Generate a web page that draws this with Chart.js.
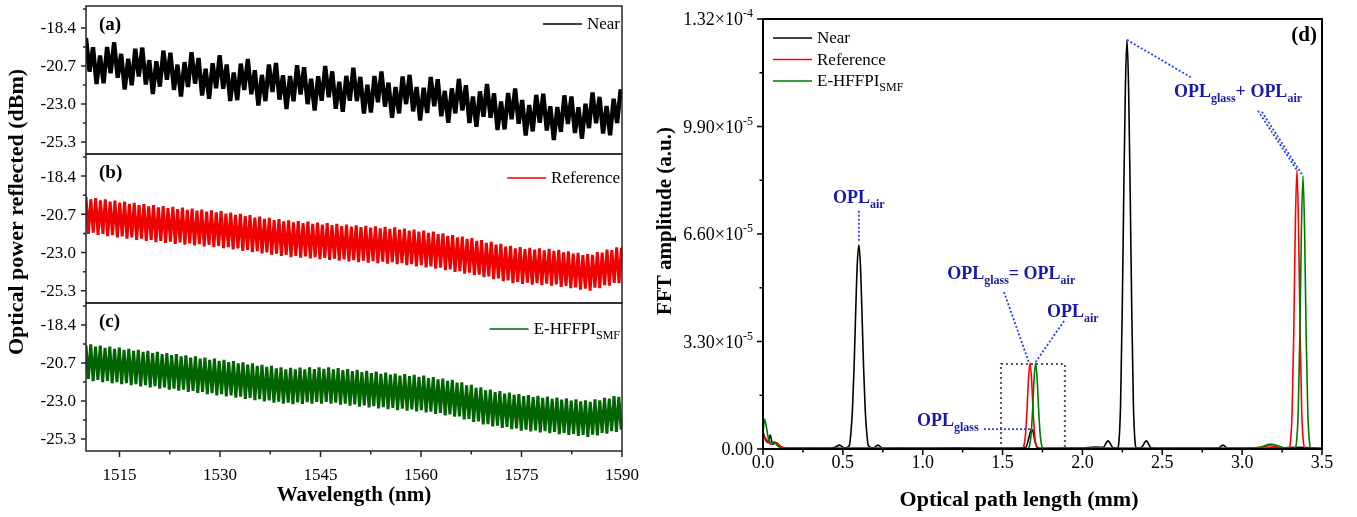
<!DOCTYPE html>
<html>
<head>
<meta charset="utf-8">
<script src="https://cdn.jsdelivr.net/npm/chart.js@4.4.1/dist/chart.umd.min.js"></script>
<style>
  html, body { margin: 0; padding: 0; background: #fff; }
  #wrap { position: relative; width: 1357px; height: 517px; overflow: hidden; }
  #wrap canvas { position: absolute; left: 0; top: 0; }
</style>
</head>
<body>
<div id="wrap">
  <canvas id="panelA" width="1357" height="517"></canvas>
  <canvas id="panelB" width="1357" height="517"></canvas>
  <canvas id="panelC" width="1357" height="517"></canvas>
  <canvas id="panelD" width="1357" height="517"></canvas>
</div>
<script>
// ---- spectra (a)-(c): reflected power in dBm, sampled at half fringe spacing from 1510 nm
const wlStart = 1510;
const nearStep = 0.525;
const nearPower = [
  -19.00, -21.04, -19.57, -21.79, -20.07, -21.75, -19.55, -21.14, -19.27, -21.41,
  -19.97, -22.12, -20.27, -21.87, -19.66, -21.34, -19.59, -21.82, -20.35, -22.40,
  -20.42, -21.95, -19.77, -21.54, -19.90, -22.15, -20.62, -22.55, -20.47, -21.97,
  -19.87, -21.77, -20.22, -22.49, -20.87, -22.69, -20.54, -22.05, -20.05, -22.08,
  -20.61, -22.82, -21.09, -22.77, -20.56, -22.15, -20.28, -22.41, -20.96, -23.10,
  -21.24, -22.83, -20.61, -22.28, -20.52, -22.74, -21.26, -23.30, -21.31, -22.84,
  -20.66, -22.42, -20.78, -23.01, -21.48, -23.40, -21.32, -22.81, -20.70, -22.59,
  -21.03, -23.29, -21.66, -23.47, -21.30, -22.81, -20.80, -22.83, -21.36, -23.58,
  -21.84, -23.52, -21.31, -22.90, -21.03, -23.16, -21.71, -23.84, -21.98, -23.57,
  -21.34, -23.01, -21.24, -23.45, -21.97, -24.00, -22.02, -23.55, -21.37, -23.14,
  -21.50, -23.74, -22.21, -24.14, -22.06, -23.57, -21.48, -23.40, -21.87, -24.15,
  -22.55, -24.38, -22.24, -23.77, -21.79, -23.83, -22.36, -24.58, -22.85, -24.54,
  -22.34, -23.93, -22.06, -24.20, -22.76, -24.91, -23.06, -24.66, -22.45, -24.13,
  -22.38, -24.61, -23.14, -25.19, -23.19, -24.69, -22.48, -24.22, -22.55, -24.76,
  -23.20, -25.10, -22.99, -24.46, -22.31, -24.17, -22.57, -24.79, -23.13, -24.90,
  -22.69, -24.16, -22.11
];

const refStep = 0.36;
const refPower = [
  -19.65, -21.87, -19.79, -21.80, -19.72, -21.94, -19.86, -21.88, -19.79, -22.01,
  -19.93, -21.95, -19.87, -22.08, -20.00, -22.02, -19.94, -22.16, -20.07, -22.09,
  -20.01, -22.23, -20.15, -22.16, -20.08, -22.30, -20.22, -22.24,
  -20.15, -22.37, -20.28, -22.29, -20.20, -22.42, -20.33, -22.34, -20.25, -22.47, -20.38, -22.39,
  -20.30, -22.52, -20.43, -22.44, -20.36, -22.57, -20.48, -22.49, -20.41, -22.62, -20.53, -22.54, -20.46, -22.67, -20.58, -22.59,
  -20.51, -22.73, -20.65, -22.67, -20.59, -22.81, -20.73, -22.75, -20.67, -22.89, -20.81, -22.83, -20.75, -22.97,
  -20.89, -22.91, -20.83, -23.05, -20.97, -22.99, -20.91, -23.13, -21.05, -23.06, -20.98, -23.20, -21.12, -23.14,
  -21.06, -23.27, -21.18, -23.19, -21.10, -23.31, -21.22, -23.23, -21.14, -23.35, -21.27, -23.28, -21.19, -23.40,
  -21.31, -23.32, -21.23, -23.44, -21.35, -23.36, -21.27, -23.48, -21.40, -23.41, -21.32, -23.53, -21.44, -23.45,
  -21.36, -23.57, -21.47, -23.48, -21.39, -23.60, -21.50, -23.51, -21.42, -23.63, -21.54, -23.54, -21.45, -23.66, -21.57, -23.58,
  -21.48, -23.70, -21.61, -23.63, -21.55, -23.76, -21.68, -23.70, -21.61, -23.83, -21.74, -23.76, -21.68, -23.89, -21.81, -23.83, -21.74,
  -23.96, -21.89, -23.91, -21.84, -24.06, -21.99, -24.01, -21.94, -24.16, -22.09, -24.11, -22.03, -24.26, -22.18, -24.21, -22.13,
  -24.36, -22.29, -24.32, -22.25, -24.48, -22.41, -24.43, -22.36, -24.59, -22.52, -24.55, -22.48, -24.71, -22.64, -24.67, -22.60, -24.83,
  -22.75, -24.76, -22.67, -24.88, -22.79, -24.80, -22.71, -24.92, -22.82, -24.83, -22.74, -24.95, -22.86, -24.87, -22.78, -24.99, -22.90,
  -24.91, -22.83, -25.06, -22.98, -25.00, -22.92, -25.14, -23.06, -25.09, -23.01, -25.23, -23.15, -25.17, -23.09,
  -25.28, -23.14, -25.10, -22.97, -25.13, -23.00, -24.96, -22.82, -24.99, -22.85, -24.82, -22.68, -24.84, -22.71
];

const smfStep = 0.355;
const smfPower = [
  -19.65, -21.67, -19.58, -21.80, -19.71, -21.73, -19.65, -21.86, -19.78, -21.79, -19.71, -21.93, -19.84, -21.86, -19.77,
  -21.99, -19.91, -21.92, -19.84, -22.05, -19.97, -21.99, -19.90, -22.12, -20.03, -22.05, -19.97, -22.18, -20.10,
  -22.11, -20.03, -22.25, -20.17, -22.18, -20.10, -22.32, -20.23, -22.25, -20.17, -22.38, -20.30, -22.32, -20.24,
  -22.45, -20.37, -22.39, -20.30, -22.52, -20.44, -22.45, -20.37, -22.59, -20.51, -22.52, -20.44, -22.66, -20.57,
  -22.59, -20.51, -22.73, -20.65, -22.67, -20.59, -22.80, -20.72, -22.74, -20.66, -22.88, -20.80, -22.81, -20.73,
  -22.95, -20.87, -22.89, -20.81, -23.03, -20.94, -22.96, -20.88, -23.10, -21.02, -23.04, -20.96, -23.17, -21.09,
  -23.10, -21.00, -23.19, -21.09, -23.09, -20.98, -23.18, -21.08, -23.07, -20.97, -23.17, -21.07, -23.06, -20.96, -23.16, -21.05, -23.05,
  -20.96, -23.17, -21.09, -23.10, -21.01, -23.23, -21.14, -23.16, -21.07, -23.28, -21.20, -23.21, -21.12,
  -23.34, -21.25, -23.27, -21.18, -23.39, -21.31, -23.32, -21.23, -23.45, -21.36, -23.38, -21.29,
  -23.50, -21.41, -23.42, -21.34, -23.55, -21.46, -23.47, -21.38, -23.59, -21.50, -23.51, -21.42, -23.63, -21.54,
  -23.55, -21.47, -23.70, -21.62, -23.64, -21.56, -23.78, -21.70, -23.72, -21.65, -23.87, -21.79, -23.81, -21.73,
  -23.95, -21.89, -23.93, -21.87, -24.11, -22.05, -24.09, -22.03, -24.27, -22.20, -24.24, -22.18, -24.42, -22.36, -24.40,
  -22.32, -24.54, -22.46, -24.49, -22.41, -24.63, -22.55, -24.57, -22.49, -24.71, -22.63, -24.66, -22.58, -24.80,
  -22.71, -24.73, -22.64, -24.85, -22.76, -24.78, -22.69, -24.90, -22.81, -24.83, -22.74, -24.95, -22.87, -24.88,
  -22.79, -25.01, -22.92, -24.93, -22.85, -25.06, -22.98, -24.99, -22.91, -25.12, -23.03, -25.05, -22.96, -25.18,
  -23.06, -25.04, -22.91, -25.08, -22.96, -24.93, -22.81, -24.98, -22.86, -24.83, -22.71, -24.88, -22.75, -24.73
];

const wlTicks = [1515, 1530, 1545, 1560, 1575, 1590];
const wlMinor = [1522.5, 1537.5, 1552.5, 1567.5, 1582.5];
const dbmTicks = [-25.3, -23.0, -20.7, -18.4];
const dbmMinor = [-24.15, -21.85, -19.55, -17.25];

// ---- FFT (d): optical path length in mm, amplitude in units of 1e-5 a.u.
const fftNearOpl = [0, 0.015, 0.03, 0.045, 0.06, 0.085, 0.11, 0.14, 0.2, 0.3,
  0.4, 0.45, 0.48, 0.51, 0.54, 0.55, 0.56, 0.57, 0.58, 0.59,
  0.60, 0.61, 0.62, 0.63, 0.64, 0.65, 0.66, 0.69, 0.72, 0.75,
  0.85, 1.0, 1.2, 1.4, 1.6, 1.645, 1.665, 1.68, 1.69, 1.705,
  1.725, 1.8, 2.0, 2.08, 2.13, 2.16, 2.19, 2.219, 2.229, 2.239,
  2.249, 2.259, 2.269, 2.279, 2.289, 2.299, 2.309, 2.319, 2.329, 2.339,
  2.37, 2.40, 2.43, 2.5, 2.7, 2.85, 2.88, 2.91, 3.0, 3.2, 3.35, 3.5];
const fftNearAmp = [0.52, 0.30, 0.2, 0.43, 0.15, 0.19, 0.06, 0.03, 0.02, 0.03,
  0.02, 0.05, 0.12, 0.03, 0.1, 0.47, 1.2, 2.47, 4.15, 5.65,
  6.26, 5.65, 4.15, 2.47, 1.2, 0.47, 0.1, 0.03, 0.12, 0.02,
  0.03, 0.02, 0.04, 0.02, 0.03, 0.05, 0.35, 0.6, 0.55, 0.2,
  0.03, 0.02, 0.03, 0.06, 0.05, 0.25, 0.05, 0.03, 0.25, 1.4,
  4.2, 7.9, 11.1, 12.56, 11.1, 7.9, 4.2, 1.4, 0.25, 0.03,
  0.05, 0.25, 0.04, 0.02, 0.02, 0.03, 0.12, 0.02, 0.02, 0.03, 0.05, 0.02];

const fftRefOpl = [0, 0.02, 0.05, 0.08, 0.12, 0.2, 0.35, 0.5, 0.7, 0.9,
  1.1, 1.3, 1.5, 1.6, 1.622, 1.632, 1.642, 1.652, 1.662, 1.672,
  1.682, 1.692, 1.702, 1.712, 1.722, 1.8, 2.0, 2.3, 2.6, 2.9,
  3.05, 3.12, 3.17, 3.22, 3.27, 3.293, 3.303, 3.313, 3.323, 3.333,
  3.343, 3.353, 3.363, 3.373, 3.383, 3.393, 3.42, 3.5];
const fftRefAmp = [0.45, 0.3, 0.15, 0.2, 0.05, 0.02, 0.03, 0.02, 0.03, 0.02,
  0.03, 0.02, 0.02, 0.03, 0.01, 0.07, 0.36, 1.09, 2.12, 2.64,
  2.12, 1.09, 0.36, 0.07, 0.01, 0.02, 0.03, 0.02, 0.03, 0.02,
  0.03, 0.06, 0.1, 0.06, 0.03, 0.03, 0.24, 1.16, 3.52, 6.86,
  8.56, 6.86, 3.52, 1.16, 0.24, 0.03, 0.02, 0.02];

const fftSmfOpl = [0, 0.01, 0.02, 0.035, 0.05, 0.07, 0.09, 0.12, 0.2, 0.4,
  0.6, 0.8, 1.0, 1.2, 1.4, 1.6, 1.657, 1.667, 1.677, 1.687,
  1.697, 1.707, 1.717, 1.727, 1.737, 1.747, 1.757, 1.85, 2.1, 2.4,
  2.7, 3.0, 3.1, 3.18, 3.26, 3.3, 3.331, 3.341, 3.351, 3.361,
  3.371, 3.381, 3.391, 3.401, 3.411, 3.421, 3.431, 3.46, 3.5];
const fftSmfAmp = [0.5, 0.92, 0.7, 0.3, 0.2, 0.22, 0.1, 0.02, 0.03, 0.02,
  0.03, 0.02, 0.03, 0.02, 0.03, 0.02, 0.01, 0.07, 0.36, 1.09,
  2.12, 2.64, 2.12, 1.09, 0.36, 0.07, 0.01, 0.02, 0.03, 0.02,
  0.03, 0.02, 0.04, 0.15, 0.04, 0.02, 0.03, 0.24, 1.13, 3.44,
  6.71, 8.38, 6.71, 3.44, 1.13, 0.24, 0.03, 0.02, 0.01];

const oplTicks = [0, 0.5, 1.0, 1.5, 2.0, 2.5, 3.0, 3.5];
const oplMinor = [0.25, 0.75, 1.25, 1.75, 2.25, 2.75, 3.25];
const fftTicks = [0, 3.3, 6.6, 9.9, 13.2];
const fftMinor = [1.65, 4.95, 8.25, 11.55];
const fftTickLabels = [['0.00', ''], ['3.30\u00d710', '-5'], ['6.60\u00d710', '-5'], ['9.90\u00d710', '-5'], ['1.32\u00d710', '-4']];

const seriesNames = ['Near', 'Reference', 'E-HFFPI'];
const SERIF = "'Liberation Serif', 'Times New Roman', serif";
const W = 1357, H = 517;
const blueText = '#1a1aa8';
const blueLine = '#2a3cf0';

function font(size, bold) {
  return (bold ? 'bold ' : '') + size + 'px ' + SERIF;
}

// parts: [text, '' | 'sub' | 'sup']
function drawRich(ctx, parts, x, y, size, bold, color, align) {
  const small = Math.round(size * 0.68);
  let w = 0;
  parts.forEach(([t, k]) => { ctx.font = font(k ? small : size, bold); w += ctx.measureText(t).width; });
  let cx = align === 'right' ? x - w : align === 'center' ? x - w / 2 : x;
  const start = cx;
  ctx.fillStyle = color;
  ctx.textAlign = 'left';
  ctx.textBaseline = 'alphabetic';
  parts.forEach(([t, k]) => {
    ctx.font = font(k ? small : size, bold);
    const dy = k === 'sub' ? size * 0.28 : k === 'sup' ? -size * 0.42 : 0;
    ctx.fillText(t, cx, y + dy);
    cx += ctx.measureText(t).width;
  });
  return start;
}

function tickLines(ctx, scale, area, values, len) {
  values.forEach(v => {
    const p = scale.getPixelForValue(v);
    if (scale.isHorizontal()) { ctx.moveTo(p, area.bottom); ctx.lineTo(p, area.bottom + len); }
    else { ctx.moveTo(area.left - len, p); ctx.lineTo(area.left, p); }
  });
}

function spectrumPanel(canvasId, power, step, color, width, tag, legendParts, legendDy, top, bottom, withAxis) {
  const points = power.map((p, i) => ({ x: wlStart + i * step, y: p }));

  const decor = {
    id: 'decor',
    afterDatasetsDraw(chart) {
      const { ctx, chartArea: a, scales: { x, y } } = chart;
      ctx.save();
      ctx.strokeStyle = '#262626';
      ctx.lineWidth = 1.5;
      ctx.strokeRect(a.left, a.top, a.right - a.left, a.bottom - a.top);

      ctx.beginPath();
      tickLines(ctx, y, a, dbmTicks, 5);
      tickLines(ctx, y, a, dbmMinor, 3);
      if (withAxis) {
        tickLines(ctx, x, a, wlTicks, 6);
        tickLines(ctx, x, a, wlMinor, 3.5);
      }
      ctx.stroke();

      ctx.fillStyle = '#000';
      ctx.font = font(17);
      ctx.textAlign = 'right';
      ctx.textBaseline = 'middle';
      dbmTicks.forEach(v => ctx.fillText(v.toFixed(1), a.left - 10, y.getPixelForValue(v) + 1));

      ctx.font = font(19, true);
      ctx.textAlign = 'left';
      ctx.textBaseline = 'alphabetic';
      ctx.fillText(tag, a.left + 13, a.top + 24);

      // legend, right aligned in the panel
      const base = a.top + legendDy;
      const sx = drawRich(ctx, legendParts, a.right - 2, base, 17, false, '#000', 'right');
      ctx.strokeStyle = color;
      ctx.lineWidth = 1.6;
      ctx.beginPath();
      ctx.moveTo(sx - 44, base - 5);
      ctx.lineTo(sx - 5, base - 5);
      ctx.stroke();

      if (withAxis) {
        ctx.fillStyle = '#000';
        ctx.font = font(17);
        ctx.textAlign = 'center';
        wlTicks.forEach(v => ctx.fillText(String(v), x.getPixelForValue(v), a.bottom + 29));
        ctx.font = font(21, true);
        ctx.fillText('Wavelength (nm)', (a.left + a.right) / 2, a.bottom + 50);
        ctx.save();
        ctx.translate(17, 212);
        ctx.rotate(-Math.PI / 2);
        ctx.font = font(22, true);
        ctx.textBaseline = 'middle';
        ctx.fillText('Optical power reflected (dBm)', 0, 0);
        ctx.restore();
      }
      ctx.restore();
    }
  };

  return new Chart(document.getElementById(canvasId), {
    type: 'line',
    data: {
      datasets: [{
        data: points,
        borderColor: color,
        borderWidth: width,
        borderJoinStyle: 'bevel',
        pointRadius: 0,
        tension: 0
      }]
    },
    options: {
      responsive: false,
      animation: false,
      events: [],
      layout: { padding: { left: 0, right: W - 622, top: top, bottom: withAxis ? 0 : H - bottom } },
      plugins: { legend: { display: false }, tooltip: { enabled: false } },
      scales: {
        x: {
          type: 'linear', min: 1510, max: 1590, display: withAxis,
          ticks: { display: false }, grid: { display: false }, border: { display: false },
          afterFit: s => { s.height = withAxis ? H - bottom : 0; s.paddingLeft = 0; s.paddingRight = 0; }
        },
        y: {
          type: 'linear', min: -26.03, max: -17.07,
          ticks: { display: false }, grid: { display: false }, border: { display: false },
          afterFit: s => { s.width = 86; s.paddingTop = 0; s.paddingBottom = 0; }
        }
      }
    },
    plugins: [decor]
  });
}

spectrumPanel('panelA', nearPower, nearStep, '#000000', 4.3, '(a)', [['Near', '']], 23, 6, 154, false);
spectrumPanel('panelB', refPower, refStep, '#f00000', 3.0, '(b)', [['Reference', '']], 29, 154, 303, false);
spectrumPanel('panelC', smfPower, smfStep, '#006400', 3.0, '(c)', [['E-HFFPI', ''], ['SMF', 'sub']], 31, 303, 451, true);

// ---- panel (d)
const oplNotes = [
  { parts: [['OPL', ''], ['air', 'sub']], x: 0.6, y: 7.55, align: 'center' },
  { parts: [['OPL', ''], ['glass', 'sub'], ['= OPL', ''], ['air', 'sub']], x: 1.153, y: 5.22 },
  { parts: [['OPL', ''], ['air', 'sub']], x: 1.778, y: 4.05 },
  { parts: [['OPL', ''], ['glass', 'sub']], x: 0.964, y: 0.71 },
  { parts: [['OPL', ''], ['glass', 'sub'], ['+ OPL', ''], ['air', 'sub']], x: 2.573, y: 10.8 }
];
const oplLeaders = [
  [0.6, 7.31, 0.6, 6.39],
  [1.509, 4.82, 1.666, 2.64],
  [1.885, 3.93, 1.703, 2.64],
  [1.384, 0.61, 1.684, 0.61],
  [2.279, 12.56, 2.686, 11.39],
  [3.099, 10.38, 3.343, 8.56],
  [3.124, 10.35, 3.381, 8.38]
];
const fftColors = ['#000000', '#ff0000', '#007a00'];

const fftDecor = {
  id: 'fftDecor',
  beforeDatasetsDraw(chart) {
    const { ctx, chartArea: a, scales: { x, y } } = chart;
    ctx.save();
    ctx.setLineDash([2, 3]);
    ctx.lineWidth = 2;
    ctx.strokeStyle = '#555';
    ctx.beginPath();
    ctx.moveTo(x.getPixelForValue(1.49), a.bottom);
    ctx.lineTo(x.getPixelForValue(1.49), y.getPixelForValue(2.61));
    ctx.lineTo(x.getPixelForValue(1.89), y.getPixelForValue(2.61));
    ctx.lineTo(x.getPixelForValue(1.89), a.bottom);
    ctx.stroke();
    ctx.restore();
  },
  afterDatasetsDraw(chart) {
    const { ctx, chartArea: a, scales: { x, y } } = chart;
    ctx.save();

    ctx.strokeStyle = blueLine;
    ctx.lineWidth = 1.8;
    ctx.setLineDash([2, 2]);
    ctx.beginPath();
    oplLeaders.forEach(([x0, y0, x1, y1]) => {
      ctx.moveTo(x.getPixelForValue(x0), y.getPixelForValue(y0));
      ctx.lineTo(x.getPixelForValue(x1), y.getPixelForValue(y1));
    });
    ctx.stroke();
    ctx.setLineDash([]);
    oplNotes.forEach(n => drawRich(ctx, n.parts, x.getPixelForValue(n.x), y.getPixelForValue(n.y), 18, true, blueText, n.align || 'left'));

    // frame and ticks
    ctx.strokeStyle = '#000';
    ctx.lineWidth = 2;
    ctx.strokeRect(a.left, a.top, a.right - a.left, a.bottom - a.top);
    ctx.lineWidth = 1.5;
    ctx.beginPath();
    tickLines(ctx, x, a, oplTicks, 6);
    tickLines(ctx, x, a, oplMinor, 3.5);
    tickLines(ctx, y, a, fftTicks, 6);
    tickLines(ctx, y, a, fftMinor, 3.5);
    ctx.stroke();

    ctx.fillStyle = '#000';
    ctx.font = font(18);
    ctx.textAlign = 'center';
    ctx.textBaseline = 'alphabetic';
    oplTicks.forEach(v => ctx.fillText(v.toFixed(1), x.getPixelForValue(v), a.bottom + 19));
    fftTicks.forEach((v, i) => {
      const [m, e] = fftTickLabels[i];
      drawRich(ctx, [[m, ''], [e, 'sup']], a.left - 10, y.getPixelForValue(v) + 6, 18, false, '#000', 'right');
    });

    // legend
    seriesNames.forEach((name, i) => {
      const ly = a.top + 19 + i * 21.5;
      ctx.strokeStyle = fftColors[i];
      ctx.lineWidth = 1.6;
      ctx.beginPath();
      ctx.moveTo(a.left + 10, ly);
      ctx.lineTo(a.left + 49, ly);
      ctx.stroke();
      const parts = i === 2 ? [[name, ''], ['SMF', 'sub']] : [[name, '']];
      drawRich(ctx, parts, a.left + 54, ly + 5, 17, false, '#000', 'left');
    });

    ctx.fillStyle = '#000';
    ctx.font = font(21, true);
    ctx.textAlign = 'right';
    ctx.fillText('(d)', a.right - 5, a.top + 22);

    ctx.textAlign = 'center';
    ctx.font = font(22, true);
    ctx.fillText('Optical path length (mm)', 1019, a.bottom + 57);
    ctx.save();
    ctx.translate(666, 221);
    ctx.rotate(-Math.PI / 2);
    ctx.font = font(21, true);
    ctx.textBaseline = 'middle';
    ctx.fillText('FFT amplitude (a.u.)', 0, 0);
    ctx.restore();
    ctx.restore();
  }
};

function fftSeries(opl, amp, i, order) {
  return {
    label: seriesNames[i],
    data: opl.map((v, k) => ({ x: v, y: amp[k] })),
    borderColor: fftColors[i],
    borderWidth: 1.6,
    pointRadius: 0,
    cubicInterpolationMode: 'monotone',
    order: order
  };
}

new Chart(document.getElementById('panelD'), {
  type: 'line',
  data: {
    datasets: [
      fftSeries(fftNearOpl, fftNearAmp, 0, 3),
      fftSeries(fftRefOpl, fftRefAmp, 1, 2),
      fftSeries(fftSmfOpl, fftSmfAmp, 2, 1)
    ]
  },
  options: {
    responsive: false,
    animation: false,
    events: [],
    layout: { padding: { left: 680, right: W - 1322, top: 19, bottom: 0 } },
    plugins: { legend: { display: false }, tooltip: { enabled: false } },
    scales: {
      x: {
        type: 'linear', min: 0, max: 3.5,
        ticks: { display: false }, grid: { display: false }, border: { display: false },
        afterFit: s => { s.height = H - 449; s.paddingLeft = 0; s.paddingRight = 0; }
      },
      y: {
        type: 'linear', min: 0, max: 13.2,
        ticks: { display: false }, grid: { display: false }, border: { display: false },
        afterFit: s => { s.width = 83; s.paddingTop = 0; s.paddingBottom = 0; }
      }
    }
  },
  plugins: [fftDecor]
});
</script>
</body>
</html>
